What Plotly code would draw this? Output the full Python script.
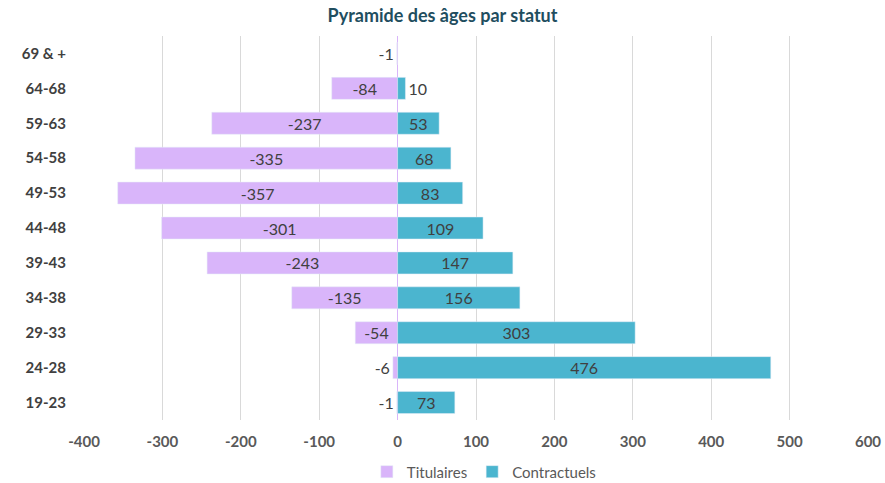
import plotly.graph_objects as go

ages = ['19-23', '24-28', '29-33', '34-38', '39-43', '44-48',
        '49-53', '54-58', '59-63', '64-68', '69 & +']
titulaires = [-1, -6, -54, -135, -243, -301, -357, -335, -237, -84, -1]
contractuels = [73, 476, 303, 156, 147, 109, 83, 68, 53, 10, None]
x_ticks = [-400, -300, -200, -100, 0, 100, 200, 300, 400, 500, 600]

FONT = 'Lato, Open Sans, sans-serif'
TXT = '#404040'

fig = go.Figure()
fig.add_trace(go.Bar(name='Titulaires', y=ages, x=titulaires, orientation='h',
                     marker=dict(color='#D9B5FA'),
                     text=titulaires, textposition='auto', textangle=0,
                     insidetextanchor='middle',
                     textfont=dict(color=TXT, size=16, family=FONT),
                     cliponaxis=False))
fig.add_trace(go.Bar(name='Contractuels', y=ages, x=contractuels, orientation='h',
                     marker=dict(color='#4BB5CF'),
                     text=contractuels, textposition='auto', textangle=0,
                     insidetextanchor='middle',
                     textfont=dict(color=TXT, size=16, family=FONT),
                     cliponaxis=False))

fig.update_layout(
    barmode='relative',
    bargap=0.37,
    width=885, height=483,
    margin=dict(l=84, r=17, t=36, b=63, autoexpand=False),
    paper_bgcolor='white', plot_bgcolor='white',
    font=dict(family=FONT, color=TXT),
    uniformtext=dict(minsize=16, mode='show'),
    title=dict(text='<b>Pyramide des âges par statut</b>', x=0.5, xanchor='center',
               yref='container', y=0.968, yanchor='middle',
               font=dict(size=18, color='#1F4E5F', family=FONT)),
    legend=dict(orientation='h', x=0.51, xanchor='center',
                yref='container', y=0.023, yanchor='middle',
                font=dict(size=15, color='#595959', family=FONT),
                itemwidth=30, traceorder='normal'),
    showlegend=True,
)
fig.update_xaxes(range=[-400, 600], tickvals=x_ticks,
                 ticktext=['<b>%d</b>' % v for v in x_ticks],
                 tickfont=dict(size=15, color='#595959', family=FONT),
                 showgrid=True, gridcolor='#D9D9D9', gridwidth=1,
                 zeroline=True, zerolinecolor='#D9B5FA', zerolinewidth=1,
                 ticks='outside', ticklen=8, tickcolor='white',
                 automargin=False, fixedrange=True)
fig.update_yaxes(categoryorder='array', categoryarray=ages,
                 ticktext=['<b>%s</b>' % a for a in ages], tickvals=ages,
                 tickfont=dict(size=15, color=TXT, family=FONT),
                 ticks='outside', ticklen=14, tickcolor='white',
                 showgrid=False, automargin=False, fixedrange=True)

# the page body has a default 8px margin; remove it so the figure fits the window
fig.write_html('out.html', config={'displayModeBar': False},
               post_script="document.body.style.margin='0';")
